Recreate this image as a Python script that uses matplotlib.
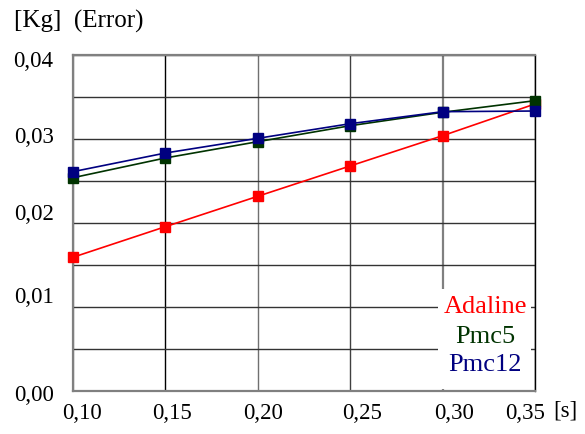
import matplotlib
matplotlib.use("Agg")

import matplotlib.pyplot as plt
from matplotlib.patches import Rectangle
from matplotlib.transforms import ScaledTranslation

# values
time_s = [0.10, 0.15, 0.20, 0.25, 0.30, 0.35]
adaline = [0.01592, 0.01956, 0.02318, 0.02679, 0.03039, 0.03417]
pmc5 = [0.02539, 0.02774, 0.02968, 0.03158, 0.03318, 0.03456]
pmc12 = [0.02611, 0.02833, 0.03008, 0.03182, 0.03325, 0.03333]

series_names = ['Adaline', 'Pmc5', 'Pmc12']
series_colors = ['#ff0000', '#003300', '#000080']
x_ticks = [0.10, 0.15, 0.20, 0.25, 0.30, 0.35]
y_ticks = [0.00, 0.01, 0.02, 0.03, 0.04]
y_minor = [0.005, 0.015, 0.025, 0.035]

plt.rcParams['font.family'] = ['Liberation Serif', 'DejaVu Serif']

fig = plt.figure(figsize=(5.85, 4.35), dpi=100)
ax = fig.add_axes([0.1248, 0.0989, 0.7897, 0.7724])

for d, name, color in zip([adaline, pmc5, pmc12], series_names, series_colors):
    ax.plot(time_s, d, color=color, lw=1.2, marker='s', markersize=7,
            markeredgecolor=color, label=name, zorder=3, clip_on=False)

ax.set_xlim(0.10, 0.35)
ax.set_ylim(0.0, 0.04)
ax.set_xticks(x_ticks)
ax.set_yticks(y_ticks)
ax.set_yticks(y_minor, minor=True)
ax.set_xticklabels([('%.2f' % v).replace('.', ',') for v in x_ticks])
ax.set_yticklabels([('%.2f' % v).replace('.', ',') for v in y_ticks])
ax.tick_params(axis='both', which='both', length=0, labelsize=16.5)
ax.tick_params(axis='y', pad=14)
ax.tick_params(axis='x', pad=8)

# the original labels sit a little off their gridlines
dpi_scale = fig.dpi_scale_trans
x_shift = [9, 7, 5, 12, 11, -10]
for lbl, dx in zip(ax.get_xticklabels(), x_shift):
    lbl.set_transform(lbl.get_transform() + ScaledTranslation(dx / 100, 0, dpi_scale))
y_shift = [-1, 13, 12, 5, -3.5]
for lbl, dy in zip(ax.get_yticklabels(), y_shift):
    lbl.set_transform(lbl.get_transform() + ScaledTranslation(0, dy / 100, dpi_scale))

ax.grid(True, which='major', axis='x', color='#333333', lw=1.0, zorder=1)
ax.grid(True, which='both', axis='y', color='#333333', lw=1.0, zorder=1)

# uneven gridline shades as in the original rendering
xgrid_colors = ['#808080', '#000000', '#707070', '#404040', '#808080', '#000000']
for gl, c in zip(ax.get_xgridlines(), xgrid_colors):
    gl.set_color(c)
gl_x = ax.get_xgridlines()
if len(gl_x) > 4:
    gl_x[4].set_linewidth(1.6)

for side in ['left', 'top', 'bottom']:
    ax.spines[side].set_color('#808080')
    ax.spines[side].set_linewidth(1.6)
ax.spines['right'].set_color('#000000')
ax.spines['right'].set_linewidth(1.0)

# text-only legend on white box
ax.add_patch(Rectangle((0.790, 0.006), 0.201, 0.298, transform=ax.transAxes,
                       facecolor='white', edgecolor='none', zorder=2))
for name, color, ty in zip(series_names, series_colors, [0.253, 0.164, 0.080]):
    ax.text(0.892, ty, name, color=color, fontsize=19, ha='center',
            va='center', transform=ax.transAxes, zorder=4)

fig.text(14 / 585, 1 - 21 / 435, '[Kg]  (Error)', fontsize=18,
         ha='left', va='center')
fig.text(553 / 585, 1 - 411 / 435, '[s]', fontsize=16.5,
         ha='left', va='center')

fig.savefig('out.png', dpi=100)
